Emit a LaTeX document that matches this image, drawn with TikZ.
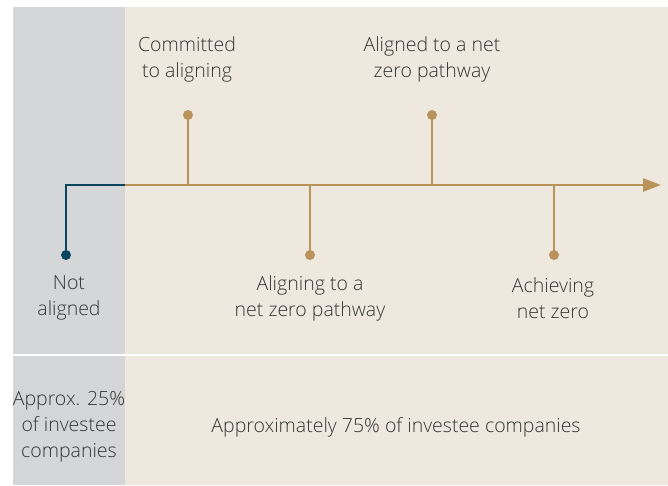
\documentclass[tikz,border=0pt]{standalone}
\usepackage{fontspec}
\setmainfont{Open Sans}[UprightFont=* Light]
\usetikzlibrary{arrows.meta}
\definecolor{panelgray}{HTML}{D5D6D8}
\definecolor{panelbeige}{HTML}{EFE8DE}
\definecolor{gold}{HTML}{B9935A}
\definecolor{navy}{HTML}{0B4660}
\definecolor{txt}{HTML}{363636}
\begin{document}
\begin{tikzpicture}[x=1pt,y=-1pt,
  lbl/.style={text=txt,align=center,font=\fontsize{19.5}{26}\selectfont,inner sep=0pt},
  goldline/.style={draw=gold,line width=2.5pt},
  golddot/.style={circle,fill=gold,inner sep=0pt,minimum size=10pt},
  navydot/.style={circle,fill=navy,inner sep=0pt,minimum size=10pt}]
\useasboundingbox (0,0) rectangle (668,485);
\fill[white] (0,0) rectangle (668,485);
\fill[panelgray] (13,7) rectangle (125,485);
\fill[panelbeige] (125,7) rectangle (668,485);
\draw[white,line width=2.5pt] (13,355) -- (668,355);
% timeline
\coordinate (split) at (125,185);
\coordinate (tip) at (661,185);
\node[navydot] (na) at (66,255) {};
\draw[navy,line width=2.5pt] (na.center) |- (split);
\draw[goldline,-{Triangle[length=18pt,width=13pt]}] (split) -- (tip);
\coordinate (t1) at (188,185);
\coordinate (t2) at (310,185);
\coordinate (t3) at (432,185);
\coordinate (t4) at (554,185);
\node[golddot] (d1) at (188,115) {};
\node[golddot] (d2) at (310,255) {};
\node[golddot] (d3) at (432,115) {};
\node[golddot] (d4) at (554,255) {};
\draw[goldline] (t1) -- (d1.center);
\draw[goldline] (t2) -- (d2.center);
\draw[goldline] (t3) -- (d3.center);
\draw[goldline] (t4) -- (d4.center);
% labels
\node[lbl] (l1) at (187,59) {Committed\\to aligning};
\node[lbl] (l3) at (432,59) {Aligned to a net\\zero pathway};
\node[lbl] (l2) at (310,298) {Aligning to a\\net zero pathway};
\node[lbl] (l4) at (553,298) {Achieving\\net zero};
\node[lbl] (l0) at (69,298) {Not\\aligned};
\node[lbl] (b1) at (69,427) {Approx. 25\%\\of investee\\companies};
\node[lbl] (b2) at (396,427) {Approximately 75\% of investee companies};
\end{tikzpicture}
\end{document}
